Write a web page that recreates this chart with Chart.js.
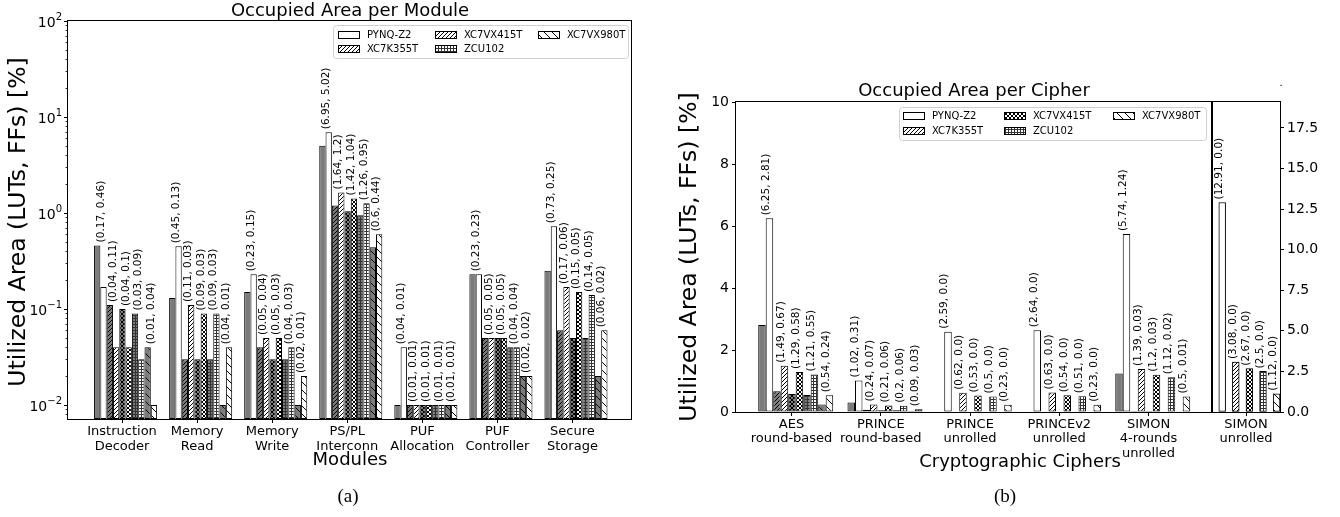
<!DOCTYPE html>
<html><head><meta charset="utf-8">
<script src="https://cdn.jsdelivr.net/npm/chart.js@4/dist/chart.umd.min.js"></script>
<style>
html,body{margin:0;padding:0;background:#fff;}
#wrap{position:relative;width:1340px;height:517px;overflow:hidden;background:#fff;}
canvas{position:absolute;top:0;}
</style></head><body>
<div id="wrap">
<canvas id="cA" width="660" height="517" style="left:0px;width:660px;height:517px"></canvas>
<canvas id="cB" width="560" height="517" style="left:660px;width:560px;height:517px"></canvas>
<canvas id="cC" width="140" height="517" style="left:1200px;width:140px;height:517px"></canvas>
</div>
<script>
// ---------------- DATA ----------------
const boards = ['PYNQ-Z2', 'XC7K355T', 'XC7VX415T', 'ZCU102', 'XC7VX980T'];

const moduleLabels = [['Instruction','Decoder'],['Memory','Read'],['Memory','Write'],['PS/PL','Interconn'],['PUF','Allocation'],['PUF','Controller'],['Secure','Storage']];
// first value of each label tuple (white bars)
const modPynqA  = [0.17, 0.45, 0.23, 6.95, 0.04, 0.23, 0.73];
const modK355A  = [0.04, 0.11, 0.05, 1.64, 0.01, 0.05, 0.17];
const modVX415A = [0.04, 0.09, 0.05, 1.42, 0.01, 0.05, 0.15];
const modZcuA   = [0.03, 0.09, 0.04, 1.26, 0.01, 0.04, 0.14];
const modVX980A = [0.01, 0.04, 0.02, 0.6,  0.01, 0.02, 0.06];
// second value of each label tuple (gray bars)
const modPynqB  = [0.46, 0.13, 0.15, 5.02, 0.01, 0.23, 0.25];
const modK355B  = [0.11, 0.03, 0.04, 1.2,  0.01, 0.05, 0.06];
const modVX415B = [0.1,  0.03, 0.03, 1.04, 0.01, 0.05, 0.05];
const modZcuB   = [0.09, 0.03, 0.03, 0.95, 0.01, 0.04, 0.05];
const modVX980B = [0.04, 0.01, 0.01, 0.44, 0.01, 0.02, 0.02];
const modTicks = [0.01, 0.1, 1, 10, 100];

const cipherLabels = [['AES','round-based'],['PRINCE','round-based'],['PRINCE','unrolled'],['PRINCEv2','unrolled'],['SIMON','4-rounds','unrolled']];
const cipPynqA  = [6.25, 1.02, 2.59, 2.64, 5.74];
const cipK355A  = [1.49, 0.24, 0.62, 0.63, 1.39];
const cipVX415A = [1.29, 0.21, 0.53, 0.54, 1.2];
const cipZcuA   = [1.21, 0.2,  0.5,  0.51, 1.12];
const cipVX980A = [0.54, 0.09, 0.23, 0.23, 0.5];
const cipPynqB  = [2.81, 0.31, 0.0, 0.0, 1.24];
const cipK355B  = [0.67, 0.07, 0.0, 0.0, 0.03];
const cipVX415B = [0.58, 0.06, 0.0, 0.0, 0.03];
const cipZcuB   = [0.55, 0.06, 0.0, 0.0, 0.02];
const cipVX980B = [0.24, 0.03, 0.0, 0.0, 0.01];
const cipTicks = [0, 2, 4, 6, 8, 10];

const simonUnrolledLabel = [['SIMON','unrolled']];
const simonA = [12.91, 3.08, 2.67, 2.5, 1.12]; // per board
const simonB = [0.0, 0.0, 0.0, 0.0, 0.0];
const simonTicks = [0, 2.5, 5, 7.5, 10, 12.5, 15, 17.5];

// ---------------- STYLE ----------------
const FONT = "'DejaVu Sans', sans-serif";
const SERIF = "'Liberation Serif', 'DejaVu Serif', serif";
const GRAY = '#7b7b7b';
const barKinds = ['none', 'fwd', 'cross', 'dots', 'back'];
const legendKindsA = ['none', 'fwd', 'fwd', 'dots', 'back'];
const legendKindsB = ['none', 'fwd', 'cross', 'dots', 'back'];
const GROUP_SHIFT = 0.047;

const patCtx = document.createElement('canvas').getContext('2d');
function makePattern(bg, kind) {
  if (kind === 'none') return bg;
  const s = {fwd: 4, cross: 4, dots: 3, back: 8}[kind];
  const c = document.createElement('canvas'); c.width = s; c.height = s;
  const g = c.getContext('2d');
  g.fillStyle = bg; g.fillRect(0, 0, s, s);
  g.strokeStyle = '#000'; g.fillStyle = '#000'; g.lineWidth = 1;
  const fwd = () => { g.beginPath(); g.moveTo(-1, s + 1); g.lineTo(s + 1, -1); g.moveTo(-1, 1); g.lineTo(1, -1); g.moveTo(s - 1, s + 1); g.lineTo(s + 1, s - 1); g.stroke(); };
  const back = () => { g.beginPath(); g.moveTo(-1, -1); g.lineTo(s + 1, s + 1); g.moveTo(-1, s - 1); g.lineTo(1, s + 1); g.moveTo(s - 1, -1); g.lineTo(s + 1, 1); g.stroke(); };
  if (kind === 'fwd') fwd();
  if (kind === 'back') back();
  if (kind === 'cross') { fwd(); back(); }
  if (kind === 'dots') { g.fillStyle = '#333'; g.fillRect(0, 0, s, 1); g.fillRect(0, 0, 1, s); }
  return patCtx.createPattern(c, 'repeat');
}

function fmt(v) { return Number.isInteger(v) ? v.toFixed(1) : String(v); }

function buildDatasets(aSeries, bSeries, xFor) {
  const ds = [];
  aSeries.forEach((aArr, b) => {
    const bArr = bSeries[b];
    const common = {borderColor: '#000', borderWidth: 1, borderSkipped: false, categoryPercentage: 1, barPercentage: 1};
    ds.push(Object.assign({label: boards[b] + ' (2nd)', data: bArr.map((v, i) => xFor(i, v)), backgroundColor: makePattern(GRAY, barKinds[b])}, common));
    ds.push(Object.assign({label: boards[b] + ' (1st)', data: aArr.map((v, i) => xFor(i, v)), backgroundColor: makePattern('#ffffff', barKinds[b])}, common));
  });
  return ds;
}

// --------- decoration plugin (spines, value labels, titles, legend) ----------
function makeDecor(cfg) {
  return {
    id: 'decor_' + cfg.name,
    afterDatasetsDraw(chart) {
      const ctx = chart.ctx, ca = chart.chartArea;
      ctx.save();
      // minor ticks (log axis)
      if (cfg.minorTicks) {
        const ys = chart.scales.y;
        ctx.strokeStyle = '#000'; ctx.lineWidth = 0.8;
        for (let k = -3; k <= 1; k++) for (let m = 2; m <= 9; m++) {
          const v = m * Math.pow(10, k);
          if (v < ys.min || v > ys.max) continue;
          const py = Math.round(ys.getPixelForValue(v)) + 0.5;
          ctx.beginPath(); ctx.moveTo(ca.left - 2.5, py); ctx.lineTo(ca.left, py); ctx.stroke();
        }
      }
      // spines
      ctx.strokeStyle = '#000'; ctx.lineWidth = 1;
      ctx.strokeRect(Math.round(ca.left) - 0.5, Math.round(ca.top) - 0.5, Math.round(ca.right - ca.left) + 1, Math.round(ca.bottom - ca.top) + 1);
      // value labels
      ctx.fillStyle = '#000';
      ctx.font = '10.5px ' + FONT;
      ctx.textAlign = 'left'; ctx.textBaseline = 'middle';
      for (let b = 0; b < 5; b++) {
        const gm = chart.getDatasetMeta(2 * b), wm = chart.getDatasetMeta(2 * b + 1);
        const gd = chart.data.datasets[2 * b].data, wd = chart.data.datasets[2 * b + 1].data;
        for (let i = 0; i < gm.data.length; i++) {
          const ge = gm.data[i], we = wm.data[i];
          const x = (ge.x + we.x) / 2, y = Math.min(ge.y, we.y) - 3;
          const wv = typeof wd[i] === 'object' ? wd[i].y : wd[i];
          const gv = typeof gd[i] === 'object' ? gd[i].y : gd[i];
          ctx.save(); ctx.translate(x, y); ctx.rotate(-Math.PI / 2);
          ctx.fillText('(' + fmt(wv) + ', ' + fmt(gv) + ')', 0, 0.5);
          ctx.restore();
        }
      }
      // log y tick labels
      if (cfg.logLabels) {
        const ys = chart.scales.y;
        cfg.logLabels.forEach(v => {
          const py = ys.getPixelForValue(v);
          const exp = String(Math.round(Math.log10(v))).replace('-', '\u2212');
          ctx.font = '14px ' + FONT; const wb = ctx.measureText('10').width;
          ctx.font = '10px ' + FONT; const we = ctx.measureText(exp).width;
          const xr = ca.left - 6; const xs = xr - wb - we;
          ctx.textAlign = 'left'; ctx.textBaseline = 'alphabetic';
          ctx.font = '14px ' + FONT; ctx.fillText('10', xs, py + 6);
          ctx.font = '10px ' + FONT; ctx.fillText(exp, xs + wb, py - 1);
        });
      }
      // texts
      ctx.textAlign = 'center'; ctx.textBaseline = 'middle'; ctx.fillStyle = '#000';
      (cfg.texts || []).forEach(t => {
        ctx.font = t.font;
        ctx.save(); ctx.translate(t.x, t.y); if (t.rot) ctx.rotate(-Math.PI / 2);
        ctx.fillText(t.text, 0, 0); ctx.restore();
      });
      // legend
      if (cfg.legend) {
        const L = cfg.legend;
        ctx.fillStyle = 'rgba(255,255,255,0.85)'; ctx.strokeStyle = '#d0d0d0'; ctx.lineWidth = 1;
        ctx.beginPath();
        if (ctx.roundRect) ctx.roundRect(L.x + 0.5, L.y + 0.5, L.w, L.h, 3); else ctx.rect(L.x + 0.5, L.y + 0.5, L.w, L.h);
        ctx.fill(); ctx.stroke();
        ctx.font = '10px ' + FONT; ctx.textAlign = 'left'; ctx.textBaseline = 'middle';
        L.items.forEach((it, k) => {
          ctx.fillStyle = makePattern('#ffffff', L.kinds[k]);
          ctx.fillRect(it.sx, it.sy - 4, 22, 8);
          ctx.strokeStyle = '#000'; ctx.lineWidth = 1;
          ctx.strokeRect(it.sx + 0.5, it.sy - 3.5, 21, 7);
          ctx.fillStyle = '#000';
          ctx.fillText(boards[k], it.sx + 29, it.sy + 0.5);
        });
      }
      ctx.restore();
    }
  };
}

function tickAxisBase() {
  return {grid: {drawOnChartArea: false, drawTicks: true, tickLength: 4, color: '#000', tickColor: '#000', offset: false}, border: {display: false}};
}

// ---------------- CHART A ----------------
const modA = [modPynqA, modK355A, modVX415A, modZcuA, modVX980A];
const modB = [modPynqB, modK355B, modVX415B, modZcuB, modVX980B];
const dsA = buildDatasets(modA, modB, (i, v) => ({x: i + GROUP_SHIFT, y: v}));
dsA.forEach(d => { d.categoryPercentage = 0.84; });

new Chart(document.getElementById('cA'), {
  type: 'bar',
  data: {datasets: dsA},
  options: {
    responsive: false, animation: false, devicePixelRatio: 1,
    layout: {padding: {left: 0, right: 29, top: 21, bottom: 0}},
    plugins: {legend: {display: false}, tooltip: {enabled: false}, title: {display: false}},
    scales: {
      x: Object.assign(tickAxisBase(), {
        type: 'linear', offset: false, min: -0.72, max: 6.78,
        afterBuildTicks: s => { s.ticks = moduleLabels.map((_, i) => ({value: i})); },
        afterFit: s => { s.height = 98; },
        ticks: {callback: v => moduleLabels[v], font: {family: FONT, size: 13, lineHeight: 1.15}, color: '#000', padding: 1, maxRotation: 0, autoSkip: false}
      }),
      y: Object.assign(tickAxisBase(), {
        type: 'logarithmic', min: 0.00715, max: 100, beginAtZero: false,
        afterBuildTicks: s => { s.ticks = modTicks.map(v => ({value: v, major: true})); },
        afterFit: s => { s.width = 68; },
        ticks: {callback: () => '', autoSkip: false}
      })
    }
  },
  plugins: [makeDecor({
    name: 'A', minorTicks: true, logLabels: modTicks,
    texts: [
      {text: 'Occupied Area per Module', x: 350, y: 11, font: '18px ' + FONT},
      {text: 'Utilized Area (LUTs, FFs) [%]', x: 19, y: 222, rot: true, font: '23.5px ' + FONT},
      {text: 'Modules', x: 350, y: 460, font: '18px ' + FONT},
      {text: '(a)', x: 348, y: 497, font: '19px ' + SERIF}
    ],
    legend: {x: 333, y: 25, w: 295, h: 33, kinds: legendKindsA,
      items: [{sx: 338, sy: 35}, {sx: 338, sy: 49}, {sx: 435, sy: 35}, {sx: 435, sy: 49}, {sx: 538, sy: 35}]}
  })]
});

// ---------------- CHART B (main) ----------------
const cipA = [cipPynqA, cipK355A, cipVX415A, cipZcuA, cipVX980A];
const cipB = [cipPynqB, cipK355B, cipVX415B, cipZcuB, cipVX980B];
const dsB = buildDatasets(cipA, cipB, (i, v) => ({x: i + GROUP_SHIFT, y: v}));
dsB.forEach(d => { d.categoryPercentage = 0.84; });

new Chart(document.getElementById('cB'), {
  type: 'bar',
  data: {datasets: dsB},
  options: {
    responsive: false, animation: false, devicePixelRatio: 1,
    layout: {padding: {left: 0, right: 8, top: 102, bottom: 0}},
    plugins: {legend: {display: false}, tooltip: {enabled: false}, title: {display: false}},
    scales: {
      x: Object.assign(tickAxisBase(), {
        type: 'linear', offset: false, min: -0.622, max: 4.711,
        afterBuildTicks: s => { s.ticks = cipherLabels.map((_, i) => ({value: i})); },
        afterFit: s => { s.height = 105; },
        ticks: {callback: v => cipherLabels[v], font: {family: FONT, size: 13, lineHeight: 1.12}, color: '#000', padding: 1, maxRotation: 0, autoSkip: false}
      }),
      y: Object.assign(tickAxisBase(), {
        type: 'linear', min: 0, max: 10,
        afterBuildTicks: s => { s.ticks = cipTicks.map(v => ({value: v})); },
        afterFit: s => { s.width = 76; },
        ticks: {font: {family: FONT, size: 14}, color: '#000', padding: 3, autoSkip: false}
      })
    }
  },
  plugins: [makeDecor({
    name: 'B',
    texts: [
      {text: 'Occupied Area per Cipher', x: 314, y: 91, font: '18px ' + FONT},
      {text: 'Utilized Area (LUTs, FFs) [%]', x: 30, y: 257, rot: true, font: '23.5px ' + FONT},
      {text: 'Cryptographic Ciphers', x: 360, y: 462, font: '18px ' + FONT},
      {text: '(b)', x: 345, y: 497, font: '19px ' + SERIF}
    ],
    legend: {x: 239, y: 107, w: 307, h: 33, kinds: legendKindsB,
      items: [{sx: 243, sy: 116}, {sx: 243, sy: 131}, {sx: 344, sy: 116}, {sx: 344, sy: 131}, {sx: 453, sy: 116}]}
  })]
});

// ---------------- CHART C (SIMON unrolled, right axis) ----------------
const simA = simonA.map(v => [v]);
const simB = simonB.map(v => [v]);
const dsC = buildDatasets(simA, simB, (i, v) => v);

new Chart(document.getElementById('cC'), {
  type: 'bar',
  data: {labels: simonUnrolledLabel, datasets: dsC},
  options: {
    responsive: false, animation: false, devicePixelRatio: 1,
    layout: {padding: {left: 12, right: 0, top: 102, bottom: 0}},
    plugins: {legend: {display: false}, tooltip: {enabled: false}, title: {display: false}},
    scales: {
      x: Object.assign(tickAxisBase(), {
        type: 'category', offset: true,
        afterFit: s => { s.height = 105; },
        ticks: {font: {family: FONT, size: 13, lineHeight: 1.12}, color: '#000', padding: 1, maxRotation: 0, autoSkip: false}
      }),
      y: Object.assign(tickAxisBase(), {
        type: 'linear', position: 'right', min: 0, max: 19.1,
        afterBuildTicks: s => { s.ticks = simonTicks.map(v => ({value: v})); },
        afterFit: s => { s.width = 60; },
        ticks: {callback: v => v.toFixed(1), font: {family: FONT, size: 14}, color: '#000', padding: 3, autoSkip: false}
      })
    }
  },
  plugins: [makeDecor({
    name: 'C',
    texts: [{text: '.', x: 81, y: 83, font: '10px ' + FONT}]
  })]
});
</script>
</body></html>
